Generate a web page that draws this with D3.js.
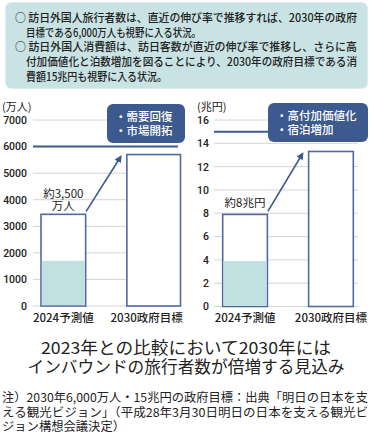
<!DOCTYPE html>
<html>
<head>
<meta charset="utf-8">
<script src="https://cdn.jsdelivr.net/npm/d3@7"></script>
<style>
  body { margin: 0; background: #fff; }
  svg { display: block; font-family: "Noto Sans CJK JP", "Noto Sans", sans-serif; }
</style>
</head>
<body>
<div id="chart"></div>
<script>
const width = 372;
const height = 444;

// data
const categories = ["2024予測値", "2030政府目標"];
const visitors = [3450, 5700];        // 万人
const visitorsBase = [1700, 0];       // light part
const visitorsTarget = 6000;
const visitorTicks = [0, 1000, 2000, 3000, 4000, 5000, 6000, 7000];
const spending = [7.9, 13.3];         // 兆円
const spendingBase = [3.9, 0];
const spendingTarget = 15;
const spendingTicks = [0, 2, 4, 6, 8, 10, 12, 14, 16];

const topLines = [
  "○ 訪日外国人旅行者数は、直近の伸び率で推移すれば、2030年の政府",
  "目標である6,000万人も視野に入る状況。",
  "○ 訪日外国人消費額は、訪日客数が直近の伸び率で推移し、さらに高",
  "付加価値化と泊数増加を図ることにより、2030年の政府目標である消",
  "費額15兆円も視野に入る状況。"
];
const titleLines = ["2023年との比較において2030年には", "インバウンドの旅行者数が倍増する見込み"];
const noteLines = [
  "注）2030年6,000万人・15兆円の政府目標：出典「明日の日本を支",
  "える観光ビジョン」（平成28年3月30日明日の日本を支える観光ビ",
  "ジョン構想会議決定）"
];

const blue = "#3d5a8e";
const barStroke = "#4d6aa3";
const teal = "#c3e0e1";

const svg = d3.select("#chart").append("svg")
  .attr("width", width).attr("height", height);

svg.append("defs").append("marker")
  .attr("id", "arrow")
  .attr("viewBox", "0 0 10 10")
  .attr("refX", 8).attr("refY", 5)
  .attr("markerWidth", 4.5).attr("markerHeight", 4.5)
  .attr("orient", "auto")
  .append("path").attr("d", "M0,0 L10,5 L0,10 Z").attr("fill", blue);

// top box
svg.append("rect")
  .attr("x", 5.5).attr("y", 2.5).attr("width", 362).attr("height", 86)
  .attr("rx", 6).attr("fill", "#c9e2e4").attr("stroke", "#dbecee");

const topPos = [
  { x: 15, y: 18, w: 342 },
  { x: 26, y: 33, w: 175 },
  { x: 15, y: 47, w: 342 },
  { x: 26, y: 62, w: 331 },
  { x: 26, y: 77, w: 141 }
];
svg.append("g").selectAll("text")
  .data(topLines)
  .join("text")
  .attr("x", (d, i) => topPos[i].x)
  .attr("y", (d, i) => topPos[i].y)
  .attr("dy", "0.36em")
  .attr("textLength", (d, i) => topPos[i].w)
  .attr("lengthAdjust", "spacingAndGlyphs")
  .attr("font-size", "11.5px")
  .attr("font-weight", 500)
  .attr("fill", "#222")
  .text(d => d);

function drawChart(opt) {
  const g = svg.append("g");
  const y = d3.scaleLinear().domain(opt.domain).range([opt.bottom, opt.top]);
  const x = d3.scaleBand().domain(categories).range(opt.xRange).paddingInner(0.48).paddingOuter(0);
  const bw = i => x.bandwidth() + (i === 1 ? opt.wideLast : 0);

  // grid
  g.selectAll(".grid")
    .data(opt.ticks)
    .join("line")
    .attr("x1", opt.gridX[0]).attr("x2", opt.gridX[1])
    .attr("y1", d => y(d)).attr("y2", d => y(d))
    .attr("stroke", "#d4d4d4").attr("stroke-width", 1);

  // axis labels
  g.append("g")
    .attr("transform", `translate(${opt.labelX},0)`)
    .call(d3.axisLeft(y).tickValues(opt.ticks).tickFormat(d3.format("d")).tickSize(0).tickPadding(0))
    .call(a => a.select(".domain").remove())
    .selectAll("text")
    .attr("font-family", "Roboto, 'Noto Sans', sans-serif")
    .attr("font-size", "10.5px")
    .attr("font-weight", 500)
    .attr("fill", "#222");

  g.append("text")
    .attr("x", opt.unitX).attr("y", 107).attr("dy", "0.36em")
    .attr("font-size", "11px").attr("fill", "#222")
    .text(opt.unit);

  // bars
  g.selectAll(".bar")
    .data(opt.values)
    .join("rect")
    .attr("x", (d, i) => x(categories[i]))
    .attr("y", d => y(d))
    .attr("width", (d, i) => bw(i))
    .attr("height", d => y(0) - y(d))
    .attr("fill", "#fff")
    .attr("stroke", barStroke).attr("stroke-width", 1.6);

  g.selectAll(".base")
    .data(opt.base)
    .join("rect")
    .attr("x", (d, i) => x(categories[i]) + 0.8)
    .attr("y", d => y(d))
    .attr("width", (d, i) => bw(i) - 1.6)
    .attr("height", d => Math.max(0, y(0) - y(d) - 0.8))
    .attr("fill", teal);

  // target line
  g.append("line")
    .attr("x1", opt.gridX[0]).attr("x2", opt.lineEnd)
    .attr("y1", y(opt.target)).attr("y2", y(opt.target))
    .attr("stroke", blue).attr("stroke-width", 2);

  // callout box
  g.append("rect")
    .attr("x", opt.box[0]).attr("y", opt.box[1])
    .attr("width", opt.box[2]).attr("height", opt.box[3])
    .attr("rx", 6).attr("fill", blue);
  g.selectAll(".boxText")
    .data(opt.boxText)
    .join("text")
    .attr("x", opt.box[0] + 8)
    .attr("y", (d, i) => opt.box[1] + 13 + i * 13.5)
    .attr("dy", "0.36em")
    .attr("font-size", "11.5px").attr("font-weight", 500)
    .attr("fill", "#fff")
    .text(d => d);

  // arrow
  const x0 = x(categories[0]) + x.bandwidth();
  const x1 = x(categories[1]);
  g.append("line")
    .attr("x1", x0 + 0.5).attr("y1", y(opt.values[0]) - 3)
    .attr("x2", x1 - 6).attr("y2", y(opt.values[1]) + 2)
    .attr("stroke", blue).attr("stroke-width", 1.6)
    .attr("marker-end", "url(#arrow)");

  // value label
  g.selectAll(".vlabel")
    .data(opt.valueLabel)
    .join("text")
    .attr("x", x(categories[0]) + x.bandwidth() / 2)
    .attr("y", (d, i) => y(opt.values[0]) - opt.labelGap - (opt.valueLabel.length - 1 - i) * 12.5)
    .attr("text-anchor", "middle")
    .attr("font-size", "11.5px").attr("fill", "#222")
    .text(d => d);

  // category labels
  g.selectAll(".cat")
    .data(categories)
    .join("text")
    .attr("x", (d, i) => x(d) + bw(i) / 2 + (i === 1 ? opt.catShift : 0))
    .attr("y", 318).attr("dy", "0.36em")
    .attr("text-anchor", "middle")
    .attr("font-size", "11.5px").attr("font-weight", 500)
    .attr("fill", "#222")
    .text(d => d);
}

drawChart({
  domain: [0, 7000], ticks: visitorTicks, top: 120, bottom: 306,
  xRange: [41, 171.5], wideLast: 9, catShift: -7,
  gridX: [33, 178], labelX: 27, unitX: 2, unit: "(万人)",
  values: visitors, base: visitorsBase, target: visitorsTarget, lineEnd: 178,
  box: [107, 104, 78, 39], boxText: ["・需要回復", "・市場開拓"],
  valueLabel: ["約3,500", "万人"], labelGap: 4
});

drawChart({
  domain: [0, 16], ticks: spendingTicks, top: 120, bottom: 306.5,
  xRange: [222.7, 353.3], wideLast: 0, catShift: 0,
  gridX: [214, 358], labelX: 209, unitX: 197, unit: "(兆円)",
  values: spending, base: spendingBase, target: spendingTarget, lineEnd: 270,
  box: [268, 103, 100, 39], boxText: ["・高付加価値化", "・宿泊増加"],
  valueLabel: ["約8兆円"], labelGap: 7
});

// title
const titleW = [290, 317];
svg.append("g").selectAll("text")
  .data(titleLines)
  .join("text")
  .attr("x", 186)
  .attr("y", (d, i) => 348 + i * 19)
  .attr("dy", "0.36em")
  .attr("text-anchor", "middle")
  .attr("textLength", (d, i) => titleW[i])
  .attr("lengthAdjust", "spacingAndGlyphs")
  .attr("font-size", "16.5px")
  .attr("font-weight", 400)
  .attr("fill", "#222")
  .text(d => d);

// notes
const noteW = [366, 366, 123];
svg.append("g").selectAll("text")
  .data(noteLines)
  .join("text")
  .attr("x", 2)
  .attr("y", (d, i) => 398 + i * 14.5)
  .attr("dy", "0.36em")
  .attr("textLength", (d, i) => noteW[i])
  .attr("lengthAdjust", "spacingAndGlyphs")
  .attr("font-size", "12px")
  .attr("fill", "#222")
  .text(d => d);
</script>
</body>
</html>
